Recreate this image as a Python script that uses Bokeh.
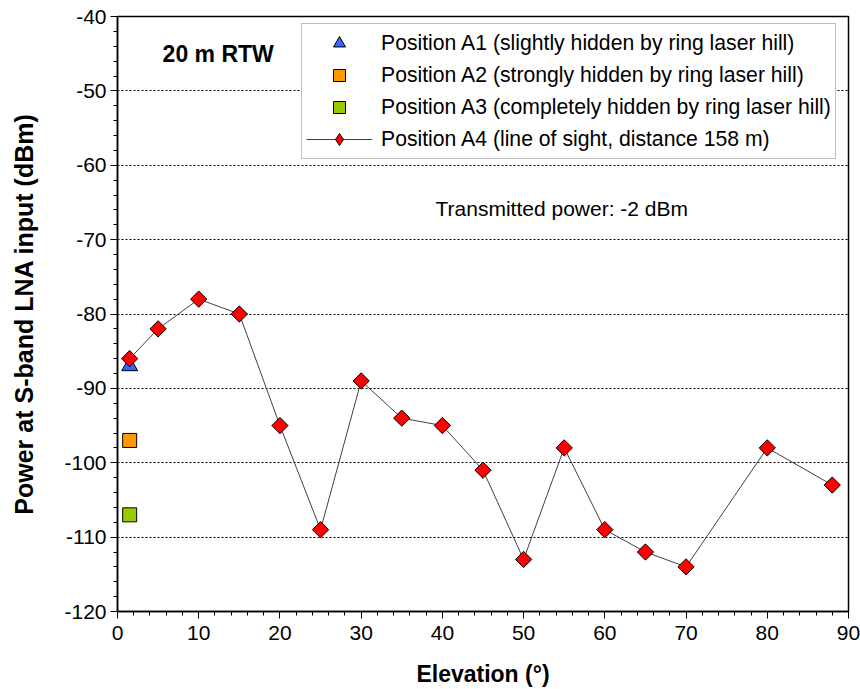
import math
from bokeh.plotting import figure
from bokeh.models import (ColumnDataSource, Legend, LegendItem, Label, FixedTicker,
                          Range1d, CustomJSTickFormatter)
from bokeh.embed import file_html
from bokeh.resources import INLINE

# ---- data ----
a4_elev = [1.5, 5, 10, 15, 20, 25, 30, 35, 40, 45, 50, 55, 60, 65, 70, 80, 88]
a4_power = [-86, -82, -78, -80, -95, -109, -89, -94, -95, -101, -113, -98, -109, -112, -114, -98, -103]
a1_elev = [1.5]
a1_power = [-87]
a2_elev = [1.5]
a2_power = [-97]
a3_elev = [1.5]
a3_power = [-107]
y_ticks = [-120, -110, -100, -90, -80, -70, -60, -50, -40]
x_ticks = [0, 10, 20, 30, 40, 50, 60, 70, 80, 90]

FONT = "Liberation Sans"

p = figure(width=860, height=689, output_backend="svg", toolbar_location=None,
           x_range=Range1d(0, 90), y_range=Range1d(-120, -40),
           min_border_left=117, min_border_right=12, min_border_top=16, min_border_bottom=78)
p.background_fill_color = "white"
p.border_fill_color = "white"
p.outline_line_color = "black"
p.outline_line_width = 1.5

# grids
p.xgrid.visible = False
p.ygrid.ticker = FixedTicker(ticks=y_ticks)
p.ygrid.grid_line_color = "black"
p.ygrid.grid_line_dash = "2 2"
p.ygrid.grid_line_width = 1

fmt = CustomJSTickFormatter(code="return String(tick).replace('\\u2212', '-');")

# axes
for ax in (p.xaxis[0], p.yaxis[0]):
    ax.axis_line_color = "black"
    ax.axis_line_width = 1.5
    ax.major_tick_in = 0
    ax.major_tick_out = 7
    ax.minor_tick_in = 0
    ax.minor_tick_out = 4
    ax.major_tick_line_color = "black"
    ax.minor_tick_line_color = "black"
    ax.major_label_text_font = FONT
    ax.major_label_text_color = "black"
    ax.axis_label_text_font = FONT
    ax.axis_label_text_font_style = "bold"
    ax.axis_label_text_color = "black"
    ax.formatter = fmt

p.xaxis.major_label_text_font_size = "21px"
p.yaxis.major_label_text_font_size = "21px"
p.xaxis.axis_label_text_font_size = "23px"
p.yaxis.axis_label_text_font_size = "25px"
p.xaxis.major_label_text_line_height = 0.8
p.xaxis.axis_label_text_line_height = 0.8

p.xaxis.ticker = FixedTicker(ticks=x_ticks, minor_ticks=list(range(0, 91, 2)))
p.yaxis.ticker = FixedTicker(ticks=y_ticks, minor_ticks=list(range(-120, -39, 2)))
p.xaxis.axis_label = "Elevation (°)"
p.yaxis.axis_label = "Power at S-band LNA input (dBm)"
p.xaxis.major_label_standoff = 7
p.yaxis.major_label_standoff = 4
p.xaxis.axis_label_standoff = 18
p.yaxis.axis_label_standoff = 23

# ---- glyphs ----
src4 = ColumnDataSource(dict(x=a4_elev, y=a4_power))
l4 = p.line("x", "y", source=src4, line_color="#404040", line_width=1)
s1 = p.scatter(a1_elev, a1_power, marker="triangle", size=16,
               fill_color="#3366FF", line_color="black", line_width=1)
s2 = p.scatter(a2_elev, a2_power, marker="square", size=14,
               fill_color="#FF9900", line_color="black", line_width=1)
s3 = p.scatter(a3_elev, a3_power, marker="square", size=14,
               fill_color="#99CC00", line_color="black", line_width=1)
# diamond glyph used for the legend entry (legend ignores glyph angle); hidden under the rotated squares
s4_leg = p.scatter("x", "y", source=src4, marker="diamond", size=12,
                   fill_color="#FF0000", line_color="black", line_width=1)
s4 = p.scatter("x", "y", source=src4, marker="square", angle=math.pi / 4, size=11.5,
               fill_color="#FF0000", line_color="black", line_width=1)

legend = Legend(items=[
    LegendItem(label="Position A1 (slightly hidden by ring laser hill)", renderers=[s1]),
    LegendItem(label="Position A2 (strongly hidden by ring laser hill)", renderers=[s2]),
    LegendItem(label="Position A3 (completely hidden by ring laser hill)", renderers=[s3]),
    LegendItem(label="Position A4 (line of sight, distance 158 m)", renderers=[l4, s4_leg]),
], location=(184, 452))
legend.label_text_font = FONT
legend.label_text_font_size = "21.2px"
legend.label_text_color = "black"
legend.label_height = 30
legend.glyph_height = 30
legend.glyph_width = 66
legend.label_standoff = 9
legend.spacing = 2
legend.padding = 4
legend.margin = 0
legend.border_line_color = "#808080"
legend.border_line_width = 1
legend.background_fill_color = "white"
legend.background_fill_alpha = 1
p.add_layout(legend, "center")

p.add_layout(Label(x=12.4, y=-45, text="20 m RTW", text_font=FONT, text_font_size="23px",
                   text_font_style="bold", text_align="center", text_baseline="middle",
                   text_color="black"))
p.add_layout(Label(x=54.7, y=-65.8, text="Transmitted power: -2 dBm", text_font=FONT,
                   text_font_size="21px", text_align="center", text_baseline="middle",
                   text_color="black"))

open("out.html", "w").write(file_html(p, INLINE))
